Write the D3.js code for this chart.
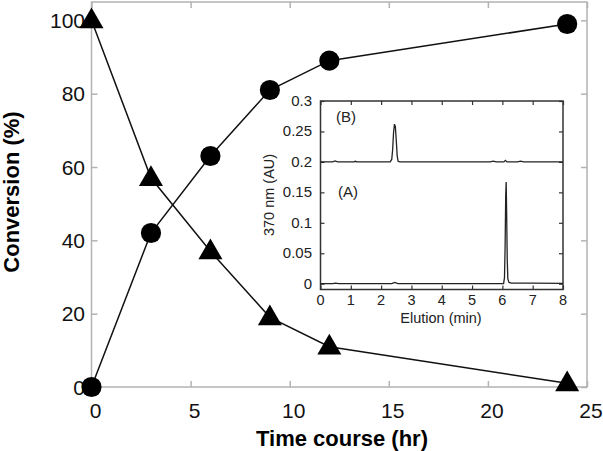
<!DOCTYPE html>
<html>
<head>
<meta charset="utf-8">
<script src="https://cdn.jsdelivr.net/npm/d3@7"></script>
<style>
  body { margin: 0; background: #fff; }
  svg { display: block; font-family: "Liberation Sans", Arial, sans-serif; }
</style>
</head>
<body>
<svg id="chart" width="603" height="451"></svg>
<script>
// Main time course data
const hours = [0, 3, 6, 9, 12, 24];
const product = [0, 42, 63, 81, 89, 99];     // circles
const substrate = [100, 57, 37, 19, 11, 1];  // triangles
const mainXTicks = [0, 5, 10, 15, 20, 25];
const mainYTicks = [0, 20, 40, 60, 80, 100];

// Inset chromatograms, [min, AU]
const traceB = [[0, 0.2], [0.4, 0.2], [0.48, 0.2015], [0.56, 0.2], [1.1, 0.2], [1.15, 0.201], [1.2, 0.2],
  [2.3, 0.2], [2.35, 0.204], [2.38, 0.22], [2.41, 0.248], [2.44, 0.262], [2.47, 0.258], [2.5, 0.235],
  [2.53, 0.21], [2.56, 0.201], [2.62, 0.2], [5.6, 0.2], [5.7, 0.2012], [5.8, 0.2], [6.05, 0.2],
  [6.1, 0.2025], [6.15, 0.2], [6.5, 0.2], [6.6, 0.2012], [6.7, 0.2], [8, 0.2]];
const traceA = [[0, 0], [0.4, 0], [0.5, 0.001], [0.6, 0], [2.35, 0], [2.45, 0.002], [2.55, 0],
  [6.04, 0], [6.07, 0.01], [6.09, 0.06], [6.11, 0.145], [6.125, 0.167], [6.14, 0.12], [6.16, 0.04],
  [6.18, 0.008], [6.22, 0.002], [6.3, 0.001], [7, 0.001], [8, 0.0005]];
const insetXTicks = [0, 1, 2, 3, 4, 5, 6, 7, 8];
const insetYTicks = [0, 0.05, 0.1, 0.15, 0.2, 0.25, 0.3];

const svg = d3.select("#chart");

// ---- main plot ----
const x = d3.scaleLinear().domain([0, 25]).range([91.5, 587]);
const y = d3.scaleLinear().domain([0, 105]).range([387, 2]);
const frameGray = "#b3b3b3";

const main = svg.append("g");

main.append("rect")
  .attr("x", x(0)).attr("y", y(105))
  .attr("width", x(25) - x(0)).attr("height", y(0) - y(105))
  .attr("fill", "none").attr("stroke", frameGray).attr("stroke-width", 1.5);

// inward ticks on all four sides
const tlen = 6;
main.append("g").attr("transform", `translate(0,${y(0)})`)
  .call(d3.axisTop(x).tickValues(mainXTicks).tickSize(tlen).tickFormat(""))
  .call(g => g.select(".domain").remove());
main.append("g").attr("transform", `translate(0,${y(105)})`)
  .call(d3.axisBottom(x).tickValues(mainXTicks).tickSize(tlen).tickFormat(""))
  .call(g => g.select(".domain").remove());
main.append("g").attr("transform", `translate(${x(0)},0)`)
  .call(d3.axisRight(y).tickValues(mainYTicks).tickSize(tlen).tickFormat(""))
  .call(g => g.select(".domain").remove());
main.append("g").attr("transform", `translate(${x(25)},0)`)
  .call(d3.axisLeft(y).tickValues(mainYTicks).tickSize(tlen).tickFormat(""))
  .call(g => g.select(".domain").remove());
main.selectAll(".tick line").attr("stroke", frameGray).attr("stroke-width", 1.5);

// tick labels
main.selectAll(".xl").data(mainXTicks).join("text")
  .attr("x", d => x(d) + 4).attr("y", 418)
  .attr("text-anchor", "middle").attr("font-size", 21).attr("fill", "#111")
  .text(d => d);
main.selectAll(".yl").data(mainYTicks).join("text")
  .attr("x", 85).attr("y", d => y(d) + 7.5)
  .attr("text-anchor", "end").attr("font-size", 21).attr("fill", "#111")
  .text(d => d);

// axis titles
main.append("text")
  .attr("x", 342).attr("y", 446)
  .attr("text-anchor", "middle").attr("font-size", 22).attr("font-weight", "bold")
  .text("Time course (hr)");
main.append("text")
  .attr("transform", "translate(19,192) rotate(-90)")
  .attr("text-anchor", "middle").attr("font-size", 22).attr("font-weight", "bold")
  .text("Conversion (%)");

// series
const line = d3.line().x(d => x(d[0])).y(d => y(d[1]));
const prodPts = hours.map((h, i) => [h, product[i]]);
const subPts = hours.map((h, i) => [h, substrate[i]]);

main.append("path").attr("d", line(prodPts))
  .attr("fill", "none").attr("stroke", "#111").attr("stroke-width", 1.5);
main.append("path").attr("d", line(subPts))
  .attr("fill", "none").attr("stroke", "#111").attr("stroke-width", 1.5);

main.selectAll(".circ").data(prodPts).join("path")
  .attr("transform", d => `translate(${x(d[0])},${y(d[1])})`)
  .attr("d", d3.symbol(d3.symbolCircle, 320)())
  .attr("fill", "#000");
main.selectAll(".tri").data(subPts).join("path")
  .attr("transform", d => `translate(${x(d[0])},${y(d[1]) + 1})`)
  .attr("d", d3.symbol(d3.symbolTriangle, 250)())
  .attr("fill", "#000");

// ---- inset ----
const ix = d3.scaleLinear().domain([0, 8]).range([320.5, 563]);
const iy = d3.scaleLinear().domain([-0.0095, 0.3]).range([289.5, 101]);
const dark = "#333";
const inset = svg.append("g");

inset.append("rect")
  .attr("x", ix(0)).attr("y", iy(0.3))
  .attr("width", ix(8) - ix(0)).attr("height", iy(-0.0095) - iy(0.3))
  .attr("fill", "#fff").attr("stroke", dark).attr("stroke-width", 1.5);

const it = 4;
inset.append("g").attr("transform", `translate(0,${iy(-0.0095)})`)
  .call(d3.axisTop(ix).tickValues(insetXTicks).tickSize(it).tickFormat(""))
  .call(g => g.select(".domain").remove());
inset.append("g").attr("transform", `translate(0,${iy(0.3)})`)
  .call(d3.axisBottom(ix).tickValues(insetXTicks).tickSize(it).tickFormat(""))
  .call(g => g.select(".domain").remove());
inset.append("g").attr("transform", `translate(${ix(0)},0)`)
  .call(d3.axisRight(iy).tickValues(insetYTicks).tickSize(it).tickFormat(""))
  .call(g => g.select(".domain").remove());
inset.append("g").attr("transform", `translate(${ix(8)},0)`)
  .call(d3.axisLeft(iy).tickValues(insetYTicks).tickSize(it).tickFormat(""))
  .call(g => g.select(".domain").remove());
inset.selectAll(".tick line").attr("stroke", dark).attr("stroke-width", 1.2);

inset.selectAll(".ixl").data(insetXTicks).join("text")
  .attr("x", d => ix(d)).attr("y", 305)
  .attr("text-anchor", "middle").attr("font-size", 14.5).attr("fill", "#222")
  .text(d => d);
inset.selectAll(".iyl").data(insetYTicks).join("text")
  .attr("x", 312).attr("y", d => iy(d) + 5)
  .attr("text-anchor", "end").attr("font-size", 15).attr("fill", "#222")
  .text(d => d);

inset.append("text")
  .attr("x", 441).attr("y", 323)
  .attr("text-anchor", "middle").attr("font-size", 14.5).attr("fill", "#222")
  .text("Elution (min)");
inset.append("text")
  .attr("transform", "translate(274,195) rotate(-90)")
  .attr("text-anchor", "middle").attr("font-size", 14.5).attr("fill", "#222")
  .text("370 nm (AU)");

const iline = d3.line().x(d => ix(d[0])).y(d => iy(d[1]));
[traceB, traceA].forEach(tr => {
  inset.append("path").attr("d", iline(tr))
    .attr("fill", "none").attr("stroke", "#222").attr("stroke-width", 1.3);
});

inset.append("text").attr("x", 336).attr("y", 122)
  .attr("font-size", 15).attr("fill", "#222").text("(B)");
inset.append("text").attr("x", 338).attr("y", 197)
  .attr("font-size", 15).attr("fill", "#222").text("(A)");
</script>
</body>
</html>
